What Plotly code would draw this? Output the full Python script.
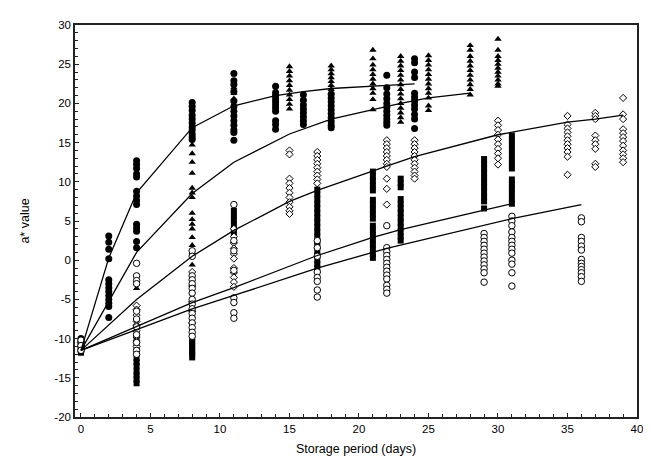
import plotly.graph_objects as go

# ---------------- data ----------------
# Filled circles
circ_days = [0, 2, 4, 8, 11, 14, 16, 18, 22, 24]
circ_vals = [
    [-10.0, -10.4, -10.8, -11.2, -11.6],
    [3.1, 2.3, 1.4, 0.2, -2.5, -3.0, -3.5, -4.0, -4.5, -5.0, -5.5, -5.9, -7.3],
    [12.7, 12.2, 11.7, 11.0, 10.6, 8.8, 8.2, 7.6, 7.1, 4.6, 4.1, 3.7, 2.4, 1.6],
    [20.1, 19.6, 19.1, 18.5, 18.0, 17.5, 17.0, 16.6, 16.1, 15.7, 15.4],
    [23.8, 22.9, 22.4, 21.5, 20.3, 19.6, 19.0, 18.4, 17.8, 17.2, 16.6, 16.3, 15.3],
    [22.2, 21.4, 21.0, 20.6, 20.2, 19.8, 19.4, 19.0, 17.8, 17.3, 16.7],
    [21.1, 20.4, 19.8, 19.3, 18.8, 18.3, 17.8, 17.3],
    [21.2, 20.7, 20.2, 19.7, 19.2, 18.7, 18.2, 17.7, 17.2, 16.9],
    [23.6, 22.0, 21.2, 20.6, 20.0, 19.5, 19.0, 18.5, 18.0, 17.6, 17.2],
    [25.7, 25.2, 24.0, 23.3, 21.3, 20.8, 20.3, 19.8, 19.3, 18.6, 18.0, 16.8],
]
circ_fit_x = [0, 2, 4, 8, 11, 14, 16, 18, 22, 24]
circ_fit_y = [-11.5, 0.3, 8.6, 16.9, 19.7, 21.0, 21.5, 21.9, 22.3, 22.5]

# Filled triangles
tri_days = [0, 4, 8, 11, 15, 18, 21, 23, 25, 28, 30]
tri_vals = [
    [-10.2, -10.7, -11.3],
    [-3.6],
    [14.7, 13.6, 12.5, 11.1, 9.2, 8.6, 8.0, 6.0, 5.2, 4.6, 4.0, 2.9, 1.9, 1.0, -0.6],
    [22.0, 21.3, 20.6],
    [24.7, 24.1, 23.5, 22.9, 22.3, 21.7, 21.1, 20.5, 19.9, 19.3],
    [24.8, 24.3, 23.8, 23.3, 22.8, 22.3, 21.8, 21.3],
    [26.8, 25.7, 24.9, 24.3, 23.7, 23.1, 22.5, 21.9, 21.3, 20.5, 19.2],
    [26.0, 25.4, 24.8, 24.2, 23.6, 23.0, 22.4, 21.8, 21.2, 20.6, 20.0, 19.4, 18.8, 18.2, 17.6],
    [26.1, 25.5, 24.9, 24.3, 23.7, 23.1, 22.5, 21.9, 21.3, 20.7, 19.7, 19.1],
    [27.4, 26.8, 26.0, 25.4, 24.8, 24.2, 23.6, 23.0, 22.4, 21.8, 21.1],
    [28.2, 26.8, 26.0, 25.5, 25.0, 24.5, 24.0, 23.5, 23.0, 22.5, 22.2],
]
tri_fit_x = [0, 4, 8, 11, 15, 18, 21, 23, 25, 28]
tri_fit_y = [-11.5, 1.0, 8.5, 12.5, 16.1, 18.0, 19.2, 20.0, 20.7, 21.3]

# Open diamonds
dia_days = [0, 4, 8, 11, 15, 17, 22, 24, 30, 35, 37, 39]
dia_vals = [
    [-10.5, -11.0],
    [-5.8, -6.3, -7.0, -7.8, -8.3, -9.0, -9.8, -10.3, -11.0],
    [-1.5, -3.3, -5.3, -6.5, -8.0],
    [4.0, 3.0, 2.2, 1.5, 0.8, 0.2, -1.0, -1.6, -2.2, -2.8, -3.4],
    [14.0, 13.5, 10.4, 9.8, 9.2, 8.6, 8.0, 7.4, 6.8, 6.3, 5.9],
    [13.8, 13.3, 12.8, 12.3, 11.8, 11.3, 10.8, 10.3, 9.8],
    [15.3, 14.8, 14.3, 13.8, 13.3, 12.8, 12.3, 11.9, 10.4, 9.1, 7.1],
    [15.3, 14.8, 14.3, 13.8, 13.3, 12.8, 12.3, 11.8, 11.3, 10.8, 10.4],
    [17.8, 17.2, 16.6, 16.0, 15.4, 14.8, 14.2, 13.6, 13.0, 12.2],
    [18.4, 17.3, 16.8, 16.3, 15.8, 15.3, 14.8, 14.3, 13.8, 13.2, 10.9],
    [18.8, 18.4, 18.0, 15.9, 15.3, 14.8, 14.2, 12.3, 11.9],
    [20.7, 18.6, 18.0, 16.7, 16.2, 15.7, 15.2, 14.6, 14.0, 13.5, 13.0, 12.5],
]
dia_fit_x = [0, 4, 8, 11, 15, 17, 22, 24, 30, 35, 37, 39]
dia_fit_y = [-11.5, -5.0, 0.5, 3.8, 7.5, 8.9, 12.0, 13.2, 16.0, 17.6, 18.0, 18.5]

# Filled squares
sq_days = [0, 4, 8, 11, 17, 21, 23, 29, 31]
sq_vals = [
    [-10.3, -10.8, -11.4, -11.8],
    [-9.5, -10.3, -11.0, -12.5, -13.0, -13.5, -14.2, -14.7, -15.2, -15.7],
    [-10.0, -10.4, -10.8, -11.2, -11.6, -12.0, -12.4],
    [6.3, 5.7, 5.1, 4.5, 3.9, 3.3],
    [9.0, 8.4, 7.8, 7.2, 6.6, 6.0, 5.4, 4.8, 4.2, 3.6, 3.0, 2.4, 1.8, 1.2, 0.6, 0.0, -0.5, -1.0],
    [11.3, 10.7, 10.1, 9.5, 8.9, 7.7, 7.1, 6.5, 5.9, 5.3, 4.4, 3.8, 3.2, 2.6, 2.0, 1.4, 0.8, 0.3],
    [10.4, 9.8, 9.3, 7.8, 7.2, 6.6, 6.0, 5.4, 4.8, 4.2, 3.6, 3.0, 2.5],
    [12.9, 12.3, 11.7, 11.1, 10.5, 9.9, 9.3, 8.7, 8.1, 7.5, 6.6],
    [15.9, 15.3, 14.7, 14.1, 13.5, 12.9, 12.3, 11.7, 10.3, 9.7, 9.1, 8.5, 7.8, 7.2],
]
sq_fit_x = [0, 4, 8, 11, 17, 21, 23, 29, 31]
sq_fit_y = [-11.5, -8.4, -5.4, -3.5, 0.6, 2.9, 3.9, 6.4, 7.2]

# Open circles
oc_days = [0, 4, 8, 11, 17, 22, 29, 31, 36]
oc_vals = [
    [-10.2, -10.9, -11.5],
    [-0.4, -2.0, -2.6, -3.0, -6.5, -7.5, -8.5, -9.5, -10.5, -11.5, -12.0],
    [1.2, 0.5, -2.0, -2.5, -3.0, -3.6, -4.2, -5.0, -5.6, -6.2, -6.8, -7.4, -8.0, -8.6, -9.2, -9.7],
    [7.1, 2.5, 1.2, -1.3, -4.8, -5.4, -6.7, -7.4],
    [2.5, 1.6, 0.5, -1.5, -2.2, -2.7, -3.8, -4.7],
    [4.4, 1.6, 1.1, 0.6, 0.1, -0.4, -0.9, -1.4, -1.9, -2.4, -3.2, -3.7, -4.2],
    [3.4, 2.9, 2.4, 1.9, 1.4, 0.9, 0.4, -0.1, -0.6, -1.1, -1.6, -2.8],
    [5.6, 5.0, 4.4, 3.6, 2.9, 2.4, 1.9, 1.4, 0.9, 0.0, -0.5, -1.6, -3.3],
    [5.4, 4.9, 2.9, 2.4, 1.8, 1.3, 0.1, -0.4, -0.8, -1.2, -1.6, -2.1, -2.7],
]
oc_fit_x = [0, 4, 8, 11, 17, 22, 29, 31, 36]
oc_fit_y = [-11.5, -8.9, -6.2, -4.5, -1.0, 1.5, 4.5, 5.3, 7.1]

x_ticks = [0, 5, 10, 15, 20, 25, 30, 35, 40]
y_ticks = [-20, -15, -10, -5, 0, 5, 10, 15, 20, 25, 30]


def flatten(days, vals):
    xs, ys = [], []
    for d, vs in zip(days, vals):
        for v in vs:
            xs.append(d)
            ys.append(v)
    return xs, ys


fig = go.Figure()

series = [
    (circ_days, circ_vals, dict(symbol="circle", size=7, color="black")),
    (tri_days, tri_vals, dict(symbol="triangle-up", size=6.5, color="black")),
    (sq_days, sq_vals, dict(symbol="square", size=6, color="black")),
    (dia_days, dia_vals, dict(symbol="diamond", size=5.5, color="white",
                              line=dict(color="black", width=1))),
    (oc_days, oc_vals, dict(symbol="circle", size=6.5, color="white",
                            line=dict(color="black", width=1))),
]
for days, vals, mk in series:
    xs, ys = flatten(days, vals)
    fig.add_trace(go.Scatter(x=xs, y=ys, mode="markers", marker=mk,
                             showlegend=False, hoverinfo="skip"))

for fx, fy in [(circ_fit_x, circ_fit_y), (tri_fit_x, tri_fit_y),
               (dia_fit_x, dia_fit_y), (sq_fit_x, sq_fit_y),
               (oc_fit_x, oc_fit_y)]:
    fig.add_trace(go.Scatter(x=fx, y=fy, mode="lines",
                             line=dict(color="black", width=1.3),
                             showlegend=False, hoverinfo="skip"))

font = "Arial, Liberation Sans, sans-serif"
fig.update_layout(
    width=651, height=467,
    margin=dict(l=67, r=22, t=11, b=58),
    paper_bgcolor="white", plot_bgcolor="white",
    font=dict(family=font, size=11, color="black"),
)
fig.update_xaxes(
    range=[-0.43, 40], tickvals=x_ticks, ticktext=[str(t) for t in x_ticks],
    showgrid=False, zeroline=False,
    showline=True, mirror=True, linecolor="#222", linewidth=1.5,
    ticks="inside", ticklen=4, tickcolor="#222",
    minor=dict(dtick=1, ticks="inside", ticklen=3, tickcolor="#222", showgrid=False),
    tickfont=dict(size=11.5),
    title=dict(text="Storage period (days)", font=dict(size=12.5), standoff=11),
)
fig.update_yaxes(
    range=[-20, 30], tickvals=y_ticks, ticktext=[str(t) for t in y_ticks],
    showgrid=False, zeroline=False,
    showline=True, mirror=True, linecolor="#222", linewidth=1.5,
    ticks="inside", ticklen=4, tickcolor="#222",
    minor=dict(dtick=1, ticks="inside", ticklen=3, tickcolor="#222", showgrid=False),
    tickfont=dict(size=11.5),
    title=dict(text="a* value", font=dict(size=12.5), standoff=22),
)

fig.write_html("out.html")
